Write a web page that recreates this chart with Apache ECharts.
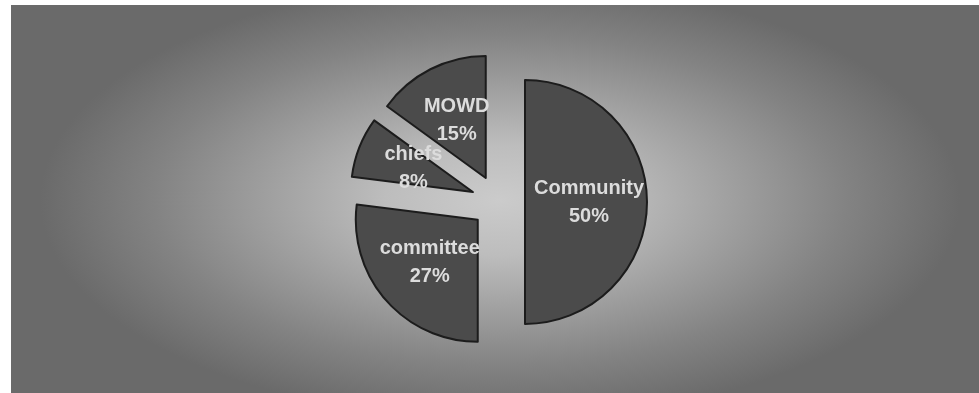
<!DOCTYPE html>
<html>
<head>
<meta charset="utf-8">
<script src="https://cdn.jsdelivr.net/npm/echarts@6/dist/echarts.min.js"></script>
<style>
  html, body { margin: 0; padding: 0; background: #ffffff; width: 979px; height: 393px; overflow: hidden; }
  #chart {
    position: absolute; left: 11px; top: 5px; width: 968px; height: 388px;
    background: radial-gradient(ellipse 460px 220px at 489px 195px,
      #cbcbcb 0%, #bdbdbd 25%, #a0a0a0 50%, #838383 75%, #6a6a6a 100%);
    background-color: #666666;
  }
</style>
</head>
<body>
<div id="chart"></div>
<script>
// Share of responsibility by group
const categories = ['Community', 'committee', 'chiefs', 'MOWD'];
const shares = [50, 27, 8, 15];

const chart = echarts.init(document.getElementById('chart'), null, { renderer: 'canvas' });

chart.setOption({
  backgroundColor: 'transparent',
  animation: false,
  series: [{
    type: 'pie',
    center: [487, 197],
    radius: [0, 122],
    startAngle: 90,
    clockwise: true,
    // every slice is pulled out from the centre
    selectedMode: 'multiple',
    selectedOffset: 27,
    avoidLabelOverlap: false,
    minShowLabelAngle: 0,
    silent: true,
    itemStyle: {
      color: '#4b4b4b',
      borderColor: '#1c1c1c',
      borderWidth: 2
    },
    label: {
      show: true,
      position: 'inside',
      formatter: '{b}\n{d}%',
      color: '#dcdcdc',
      fontFamily: '"Liberation Sans", Arial, sans-serif',
      fontWeight: 'bold',
      fontSize: 20,
      lineHeight: 28,
      overflow: 'none'
    },
    labelLayout: { hideOverlap: false },
    labelLine: { show: false },
    emphasis: { disabled: true },
    data: categories.map((name, i) => ({ name, value: shares[i], selected: true }))
  }]
});
</script>
</body>
</html>
